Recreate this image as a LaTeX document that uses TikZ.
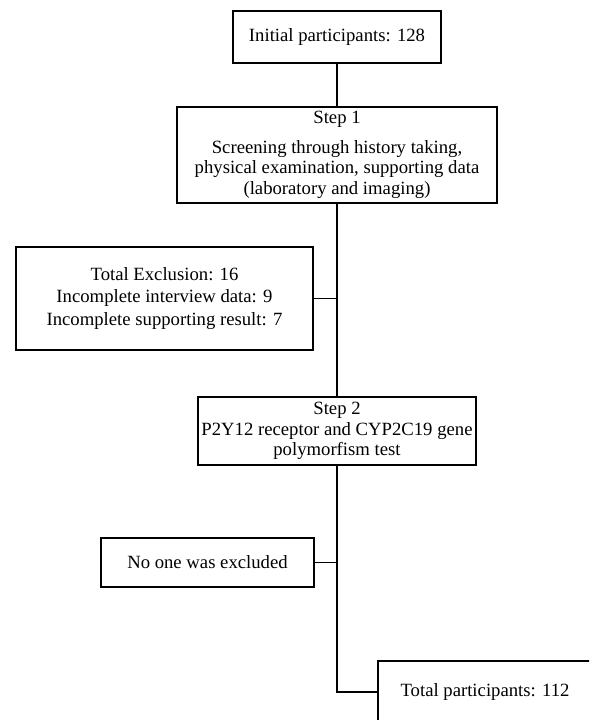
\documentclass[tikz,border=0pt]{standalone}
\usepackage{fontspec}
\setmainfont{Liberation Serif}
\begin{document}
\begin{tikzpicture}[x=1pt,y=-1pt,
  boxstyle/.style={draw=black,line width=1.1pt,align=center,inner sep=0pt,
    font=\fontsize{18.7}{20.5}\selectfont},
  link/.style={draw=black,line width=1.1pt}]
\path[use as bounding box] (0,0) rectangle (589,720);
\clip (0,0) rectangle (589,720);
\node[boxstyle,minimum width=208pt,minimum height=52pt] (n1) at (337,37) {Initial participants: 128};
\node[boxstyle,minimum width=320pt,minimum height=96pt] (s1) at (337,155) {Step 1\\[9pt]Screening through history taking,\\physical examination, supporting data\\(laboratory and imaging)};
\node[boxstyle,minimum width=297pt,minimum height=103pt] (ex) at (164.5,298.5) {Total Exclusion: 16\\[2pt]Incomplete interview data: 9\\[2pt]Incomplete supporting result: 7};
\node[boxstyle,minimum width=278pt,minimum height=68pt] (s2) at (337,431) {Step 2\\P2Y12 receptor and CYP2C19 gene\\polymorfism test};
\node[boxstyle,minimum width=213pt,minimum height=49pt] (no) at (207.5,562.5) {No one was excluded};
\node[boxstyle,minimum width=214pt,minimum height=62pt] (fin) at (485,692) {Total participants: 112};
\coordinate (turn) at (337,692);
\draw[link] (n1.south) -- (s1.north);
\draw[link] (s1.south) -- (s2.north);
\draw[link] (s2.south) -- (turn) -- (fin.west);
\draw[link] (ex.east) -- (ex.east -| s1.south);
\draw[link] (no.east) -- (no.east -| s2.south);
\end{tikzpicture}
\end{document}
